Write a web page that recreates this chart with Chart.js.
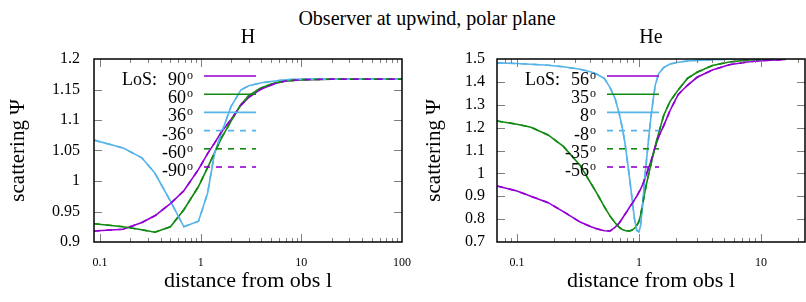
<!DOCTYPE html>
<html>
<head>
<meta charset="utf-8">
<script src="https://cdn.jsdelivr.net/npm/chart.js@4"></script>
<style>
  body { margin: 0; width: 806px; height: 302px; background: #fff; position: relative; overflow: hidden; font-family: "Liberation Serif", serif; }
  #mainTitle { position: absolute; left: 227px; width: 400px; top: 6px; text-align: center; font-size: 20px; line-height: 24px; color: #000; }
  #chartH { position: absolute; left: 0; top: 0; }
  #chartHe { position: absolute; left: 412px; top: 0; }
</style>
</head>
<body>
<div id="mainTitle">Observer at upwind, polar plane</div>
<canvas id="chartH" width="412" height="302"></canvas>
<canvas id="chartHe" width="394" height="302"></canvas>
<script>
// H panel: distance from observer (l) and scattering for each line of sight
var hX = [0.087, 0.17, 0.26, 0.35, 0.5, 0.68, 0.95, 1.17, 1.37, 1.6, 2.0, 2.5, 3.0, 4.0, 5.5, 7, 10, 20, 50, 100];
var h90 = [0.918, 0.921, 0.932, 0.943, 0.963, 0.984, 1.019, 1.045, 1.062, 1.080, 1.101, 1.124, 1.137, 1.151, 1.160, 1.164, 1.166, 1.167, 1.167, 1.167];
var h60 = [0.930, 0.925, 0.920, 0.916, 0.925, 0.953, 0.991, 1.022, 1.046, 1.070, 1.098, 1.125, 1.140, 1.153, 1.161, 1.164, 1.166, 1.167, 1.167, 1.167];
var h36 = [1.067, 1.054, 1.038, 1.013, 0.967, 0.925, 0.934, 0.980, 1.045, 1.078, 1.122, 1.149, 1.156, 1.161, 1.164, 1.166, 1.167, 1.167, 1.167, 1.167];
var hLabels = ['90', '60', '36', '-36', '-60', '-90'];

// He panel
var heX = [0.0686, 0.1, 0.13, 0.18, 0.24, 0.33, 0.40, 0.45, 0.52, 0.58, 0.64, 0.69, 0.73, 0.77, 0.80, 0.84, 0.88, 0.92, 0.96, 1.0,
           1.03, 1.06, 1.09, 1.12, 1.16, 1.20, 1.25, 1.30, 1.36, 1.45, 1.6, 1.8, 2.1, 2.5, 3.0, 4.0, 5.5, 8, 11, 16];
var he56 = [0.945, 0.923, 0.900, 0.872, 0.833, 0.787, 0.768, 0.758, 0.749, 0.748, 0.765, 0.783, 0.803, 0.822, 0.835, 0.853, 0.868, 0.885, 0.900, 0.918,
            0.930, 0.945, 0.960, 0.980, 1.000, 1.025, 1.050, 1.080, 1.115, 1.160, 1.210, 1.275, 1.345, 1.385, 1.420, 1.452, 1.475, 1.488, 1.494, 1.498];
var he35 = [1.229, 1.215, 1.202, 1.168, 1.118, 1.035, 0.960, 0.915, 0.855, 0.813, 0.783, 0.764, 0.755, 0.750, 0.748, 0.748, 0.752, 0.760, 0.772, 0.790,
            0.815, 0.850, 0.885, 0.920, 0.960, 0.995, 1.035, 1.075, 1.120, 1.175, 1.255, 1.315, 1.365, 1.415, 1.442, 1.472, 1.487, 1.496, 1.499, 1.500];
var he8 = [1.483, 1.480, 1.477, 1.473, 1.466, 1.455, 1.444, 1.434, 1.415, 1.375, 1.325, 1.260, 1.200, 1.130, 1.063, 0.975, 0.885, 0.800, 0.750, 0.745,
           0.770, 0.830, 0.910, 0.988, 1.070, 1.150, 1.240, 1.310, 1.385, 1.435, 1.463, 1.478, 1.486, 1.491, 1.494, 1.497, 1.499, 1.500, 1.500, 1.500];
var heLabels = ['56', '35', '8', '-8', '-35', '-56'];

var lineColors = ['#9400d3', '#118a11', '#56b4e9', '#56b4e9', '#118a11', '#9400d3'];
var lineDashes = [[], [], [], [6, 6], [6, 6], [6, 6]];
var fontName = 'Liberation Serif';

function IsDecade(v) {
    var e = Math.log10(v);
    return Math.abs(e - Math.round(e)) < 1e-6;
}

function MakeDatasets(xs, series, labels) {
    return series.map(function (ys, i) {
        return {
            label: labels[i],
            data: xs.map(function (x, j) { return { x: x, y: ys[j] }; }),
            borderColor: lineColors[i],
            borderWidth: 1.6,
            borderDash: lineDashes[i],
            pointRadius: 0,
            fill: false,
            tension: 0,
            order: series.length - i
        };
    });
}

// frame, inward ticks and the gnuplot style key
var panelDecor = {
    id: 'panelDecor',
    afterDatasetsDraw: function (chart) {
        var ctx = chart.ctx, a = chart.chartArea;
        var xs = chart.scales.x, ys = chart.scales.y;
        ctx.save();
        ctx.strokeStyle = '#808080';
        ctx.lineWidth = 1;
        xs.ticks.forEach(function (t) {
            var px = Math.round(xs.getPixelForValue(t.value)) + 0.5;
            if (px <= a.left + 1 || px >= a.right - 1) return;
            var len = IsDecade(t.value) ? 8 : 4;
            ctx.beginPath();
            ctx.moveTo(px, a.bottom); ctx.lineTo(px, a.bottom - len);
            ctx.moveTo(px, a.top); ctx.lineTo(px, a.top + len);
            ctx.stroke();
        });
        ys.ticks.forEach(function (t) {
            var py = Math.round(ys.getPixelForValue(t.value)) + 0.5;
            if (py <= a.top + 1 || py >= a.bottom - 1) return;
            ctx.beginPath();
            ctx.moveTo(a.left, py); ctx.lineTo(a.left + 8, py);
            ctx.moveTo(a.right, py); ctx.lineTo(a.right - 8, py);
            ctx.stroke();
        });
        ctx.strokeStyle = '#000';
        ctx.lineWidth = 1.5;
        ctx.strokeRect(a.left, a.top, a.right - a.left, a.bottom - a.top);

        chart.data.datasets.forEach(function (ds, i) {
            var row = a.top + 17 + 18.2 * i;
            ctx.fillStyle = '#000';
            ctx.textBaseline = 'alphabetic';
            ctx.textAlign = 'right';
            ctx.font = '18px "' + fontName + '"';
            if (i === 0) ctx.fillText('LoS:', a.left + 63, row + 9);
            ctx.fillText(ds.label, a.left + 92, row + 9);
            ctx.textAlign = 'left';
            ctx.font = '12px "' + fontName + '"';
            ctx.fillText('o', a.left + 93, row + 3);
            ctx.strokeStyle = ds.borderColor;
            ctx.lineWidth = ds.borderWidth;
            ctx.setLineDash(ds.borderDash);
            ctx.beginPath();
            ctx.moveTo(a.left + 110, row);
            ctx.lineTo(a.left + 162, row);
            ctx.stroke();
            ctx.setLineDash([]);
        });
        ctx.restore();
    }
};

function MakeOptions(title, xMin, xMax, yMin, yMax, yStep, yWidth, yTitlePad, yTickPad, rightPad) {
    return {
        responsive: false,
        animation: false,
        layout: { padding: { left: 0, right: rightPad, top: 0, bottom: 0 } },
        plugins: {
            legend: { display: false },
            tooltip: { enabled: false },
            title: {
                display: true,
                text: title,
                fullSize: false,
                color: '#000',
                font: { family: fontName, size: 20, weight: 'normal' },
                padding: { top: 26, bottom: 9 }
            }
        },
        scales: {
            x: {
                type: 'logarithmic',
                min: xMin,
                max: xMax,
                grid: { display: false, drawTicks: false },
                border: { display: false },
                afterBuildTicks: function (scale) {
                    scale.ticks = scale.ticks.filter(function (t) {
                        var m = t.value / Math.pow(10, Math.floor(Math.log10(t.value) + 1e-9));
                        return Math.abs(m - Math.round(m)) < 1e-6;
                    });
                },
                ticks: {
                    autoSkip: false,
                    maxRotation: 0,
                    padding: 14,
                    color: '#000',
                    font: { family: fontName, size: 12 },
                    callback: function (v) { return IsDecade(v) ? String(v) : ''; }
                },
                title: {
                    display: true,
                    text: 'distance from obs l',
                    color: '#000',
                    font: { family: fontName, size: 22 },
                    padding: { top: 0, bottom: 8 }
                },
                afterFit: function (scale) {
                    scale.height = 60;
                    scale.paddingLeft = 0;
                    scale.paddingRight = 0;
                }
            },
            y: {
                min: yMin,
                max: yMax,
                grid: { display: false, drawTicks: false },
                border: { display: false },
                ticks: {
                    stepSize: yStep,
                    padding: yTickPad,
                    color: '#000',
                    font: { family: fontName, size: 16 },
                    callback: function (v) { return String(Math.round(v * 100) / 100); }
                },
                title: {
                    display: true,
                    text: 'scattering \u03a8',
                    color: '#000',
                    font: { family: fontName, size: 21 },
                    padding: { top: yTitlePad, bottom: 0 }
                },
                afterFit: function (scale) {
                    scale.width = yWidth;
                    scale.paddingTop = 0;
                    scale.paddingBottom = 0;
                }
            }
        }
    };
}

new Chart('chartH', {
    type: 'line',
    data: { datasets: MakeDatasets(hX, [h90, h60, h36, h36, h60, h90], hLabels) },
    options: MakeOptions('H', 0.087, 100, 0.9, 1.2, 0.05, 94, 6, 14, 10),
    plugins: [panelDecor]
});

new Chart('chartHe', {
    type: 'line',
    data: { datasets: MakeDatasets(heX, [he56, he35, he8, he8, he35, he56], heLabels) },
    options: MakeOptions('He', 0.0686, 23, 0.7, 1.5, 0.1, 85, 10, 12, 1),
    plugins: [panelDecor]
});
</script>
</body>
</html>
